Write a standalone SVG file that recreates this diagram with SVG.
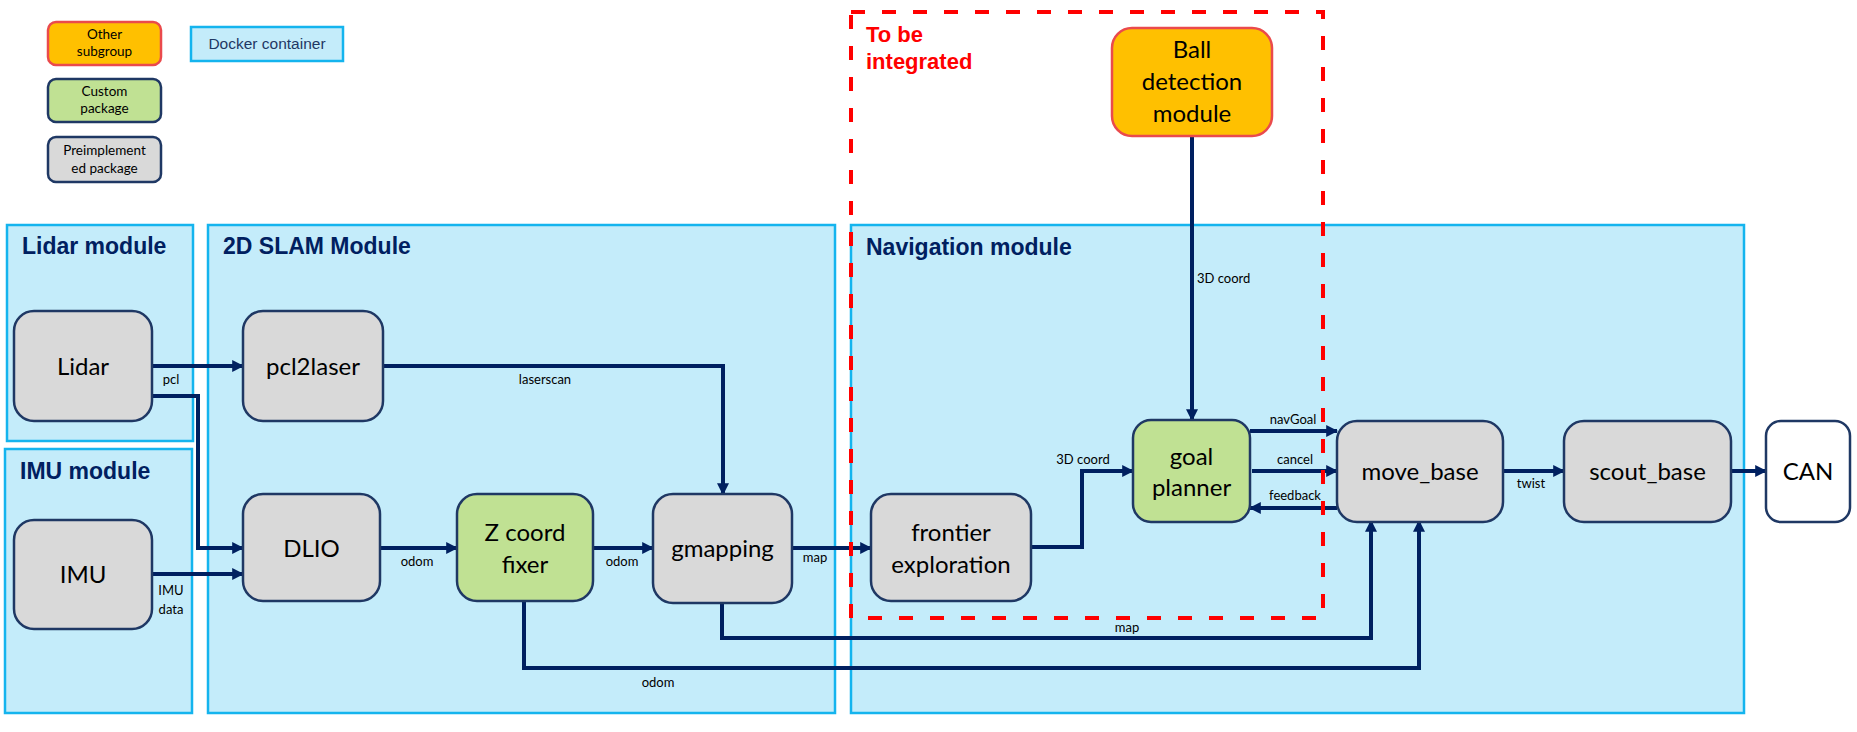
<svg xmlns="http://www.w3.org/2000/svg" width="1857" height="732" viewBox="0 0 1857 732">
<defs>
<marker id="ah" viewBox="0 0 10 10" refX="9" refY="5" markerWidth="3" markerHeight="3" orient="auto" markerUnits="strokeWidth">
<path d="M0,0 L10,5 L0,10 z" fill="#002060"/>
</marker>
<style>
.cont{fill:#C4ECFA;stroke:#14B4EE;stroke-width:2.5}
.hdr{font-family:"Liberation Sans",Arial,sans-serif;font-weight:bold;font-size:23px;fill:#002060}
.gray{fill:#D9D9D9;stroke:#1F3864;stroke-width:2.5}
.green{fill:#C0E193;stroke:#1F3864;stroke-width:2.5}
.orange{fill:#FFC000;stroke:#EA4A4C;stroke-width:2.5}
.white{fill:#FFFFFF;stroke:#1F3864;stroke-width:2.5}
.nt{font-family:Lato,"Noto Sans",sans-serif;font-size:24px;fill:#000;text-anchor:middle}
.lt{font-family:Lato,"Noto Sans",sans-serif;font-size:13.5px;fill:#000;text-anchor:middle}
.sl{font-family:Lato,"Noto Sans",sans-serif;font-size:13px;fill:#000}
.c{fill:none;stroke:#002060;stroke-width:4;stroke-linejoin:miter}
.ca{fill:none;stroke:#002060;stroke-width:4;stroke-linejoin:miter;marker-end:url(#ah)}
</style>
</defs>
<rect width="1857" height="732" fill="#FFFFFF"/>

<g id="legend">
<g id="legend-other"><rect x="48" y="22" width="113" height="43" rx="8" class="orange"/><text class="lt" x="104.5" y="39">Other</text><text class="lt" x="104.5" y="56">subgroup</text></g>
<g id="legend-docker"><rect x="191" y="27" width="152" height="34" class="cont"/><text x="267" y="49" font-family="Liberation Sans,Arial,sans-serif" font-size="15.5" fill="#1F3864" text-anchor="middle">Docker container</text></g>
<g id="legend-custom"><rect x="48" y="79" width="113" height="43" rx="8" class="green"/><text class="lt" x="104.5" y="96">Custom</text><text class="lt" x="104.5" y="113">package</text></g>
<g id="legend-pre"><rect x="48" y="137" width="113" height="45" rx="8" class="gray"/><text class="lt" x="104.5" y="155">Preimplement</text><text class="lt" x="104.5" y="173">ed package</text></g>
</g>

<g id="containers">
<g id="lidar-module"><rect x="7" y="225" width="186" height="216" class="cont"/><text class="hdr" x="22" y="254">Lidar module</text></g>
<g id="imu-module"><rect x="5" y="449" width="187" height="264" class="cont"/><text class="hdr" x="20" y="479">IMU module</text></g>
<g id="slam-module"><rect x="208" y="225" width="627" height="488" class="cont"/><text class="hdr" x="223" y="254">2D SLAM Module</text></g>
<g id="nav-module"><rect x="851" y="225" width="893" height="488" class="cont"/><text class="hdr" x="866" y="255">Navigation module</text></g>
</g>

<g id="connectors">
<path class="ca" d="M152,366 H243"/>
<path class="ca" d="M152,396 H198 V548 H243"/>
<path class="ca" d="M152,574 H243"/>
<path class="ca" d="M383,366 H723 V494"/>
<path class="ca" d="M380,548 H457"/>
<path class="ca" d="M593,548 H653"/>
<path class="ca" d="M792,548 H871"/>
<path class="ca" d="M1031,547 H1082 V471 H1133"/>
<path class="ca" d="M1192,136 V420"/>
<path class="ca" d="M1250,431 H1337"/>
<path class="ca" d="M1252,471 H1337"/>
<path class="ca" d="M1337,508 H1250"/>
<path class="ca" d="M722,603 V638 H1371 V521"/>
<path class="ca" d="M524,601 V668 H1419 V521"/>
<path class="ca" d="M1503,471 H1564"/>
<path class="ca" d="M1731,471 H1766"/>
</g>

<g id="integrate-box">
<rect x="851" y="12" width="472" height="606" fill="none" stroke="#FF0000" stroke-width="4" stroke-dasharray="14 17"/>
<text x="866" y="42" font-family="Liberation Sans,Arial,sans-serif" font-weight="bold" font-size="22" fill="#FF0000">To be</text>
<text x="866" y="69" font-family="Liberation Sans,Arial,sans-serif" font-weight="bold" font-size="22" fill="#FF0000">integrated</text>
</g>

<g id="connector-labels">
<text class="sl" x="171" y="384" text-anchor="middle">pcl</text>
<text class="sl" x="171" y="595" text-anchor="middle">IMU</text>
<text class="sl" x="171" y="614" text-anchor="middle">data</text>
<text class="sl" x="545" y="384" text-anchor="middle">laserscan</text>
<text class="sl" x="417" y="566" text-anchor="middle">odom</text>
<text class="sl" x="622" y="566" text-anchor="middle">odom</text>
<text class="sl" x="815" y="562" text-anchor="middle">map</text>
<text class="sl" x="1083" y="464" text-anchor="middle">3D coord</text>
<text class="sl" x="1197" y="283">3D coord</text>
<text class="sl" x="1293" y="424" text-anchor="middle">navGoal</text>
<text class="sl" x="1295" y="464" text-anchor="middle">cancel</text>
<text class="sl" x="1295" y="500" text-anchor="middle">feedback</text>
<text class="sl" x="1127" y="632" text-anchor="middle">map</text>
<text class="sl" x="658" y="687" text-anchor="middle">odom</text>
<text class="sl" x="1531" y="488" text-anchor="middle">twist</text>
</g>

<g id="node-lidar"><rect x="14" y="311" width="138" height="110" rx="20" class="gray"/><text class="nt" x="83" y="375">Lidar</text></g>
<g id="node-imu"><rect x="14" y="520" width="138" height="109" rx="20" class="gray"/><text class="nt" x="83" y="583">IMU</text></g>
<g id="node-pcl2laser"><rect x="243" y="311" width="140" height="110" rx="20" class="gray"/><text class="nt" x="313" y="375">pcl2laser</text></g>
<g id="node-dlio"><rect x="243" y="494" width="137" height="107" rx="20" class="gray"/><text class="nt" x="311.5" y="557">DLIO</text></g>
<g id="node-zfixer"><rect x="457" y="494" width="136" height="107" rx="20" class="green"/><text class="nt" x="525" y="541">Z coord</text><text class="nt" x="525" y="573">fixer</text></g>
<g id="node-gmapping"><rect x="653" y="494" width="139" height="109" rx="20" class="gray"/><text class="nt" x="722.5" y="557">gmapping</text></g>
<g id="node-frontier"><rect x="871" y="494" width="160" height="107" rx="20" class="gray"/><text class="nt" x="951" y="541">frontier</text><text class="nt" x="951" y="573">exploration</text></g>
<g id="node-ball"><rect x="1112" y="28" width="160" height="108" rx="20" class="orange"/><text class="nt" x="1192" y="58">Ball</text><text class="nt" x="1192" y="90">detection</text><text class="nt" x="1192" y="122">module</text></g>
<g id="node-goal"><rect x="1133" y="420" width="117" height="102" rx="18" class="green"/><text class="nt" x="1191.5" y="465">goal</text><text class="nt" x="1191.5" y="496">planner</text></g>
<g id="node-move-base"><rect x="1337" y="421" width="166" height="101" rx="20" class="gray"/><text class="nt" x="1420" y="480">move_base</text></g>
<g id="node-scout-base"><rect x="1564" y="421" width="167" height="101" rx="20" class="gray"/><text class="nt" x="1647.5" y="480">scout_base</text></g>
<g id="node-can"><rect x="1766" y="421" width="84" height="101" rx="15" class="white"/><text class="nt" x="1808" y="480">CAN</text></g>
</svg>
